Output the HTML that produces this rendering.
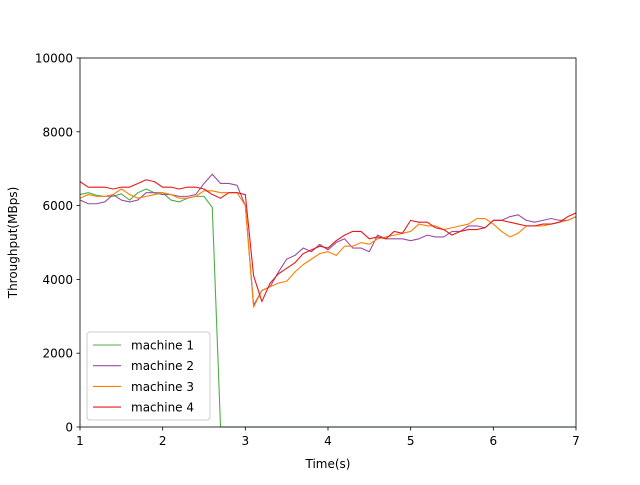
<!DOCTYPE html>
<html><head><meta charset="utf-8"><style>
body{margin:0;background:#fff;}
svg text{font-family:"DejaVu Sans","Liberation Sans",sans-serif;font-size:12px;fill:#000;}
</style></head><body>
<svg id="chart" width="640" height="480" xmlns="http://www.w3.org/2000/svg">
<rect width="640" height="480" fill="#fff"/>
<g id="plot"></g>
</svg>
<script>
const times = [];
for (let i = 0; i <= 60; i++) times.push(+(1 + i * 0.1).toFixed(1));
const seriesNames = ["machine 1","machine 2","machine 3","machine 4"];
const seriesColors = ["#4daf4a","#984ea3","#ff7f00","#e41a1c"];
const machine1 = [6300,6350,6280,6250,6250,6320,6150,6350,6450,6350,6350,6150,6100,6200,6250,6250,5950,0,0,0,0,0,0,0,0,0,0,0,0,0,0,0,0,0,0,0,0,0,0,0,0,0,0,0,0,0,0,0,0,0,0,0,0,0,0,0,0,0,0,0,0,0,0];
const machine2 = [6150,6050,6050,6100,6300,6150,6100,6150,6350,6350,6300,6300,6250,6250,6300,6600,6850,6600,6600,6550,6000,3300,3700,3800,4200,4550,4650,4850,4750,4950,4800,5000,5100,4850,4850,4750,5200,5100,5100,5100,5050,5100,5200,5150,5150,5300,5300,5450,5450,5400,5600,5600,5700,5750,5600,5550,5600,5650,5600,5600,5700];
const machine3 = [6200,6300,6250,6250,6300,6450,6300,6200,6250,6300,6350,6300,6200,6200,6250,6400,6400,6350,6350,6350,6000,3250,3700,3800,3900,3950,4200,4400,4550,4700,4750,4650,4900,4900,5000,4950,5100,5150,5200,5250,5300,5500,5450,5450,5350,5400,5450,5500,5650,5650,5500,5300,5150,5250,5450,5450,5450,5500,5550,5600,5700];
const machine4 = [6650,6500,6500,6500,6450,6500,6500,6600,6700,6650,6500,6500,6450,6500,6500,6450,6300,6200,6350,6350,6300,4100,3400,3900,4150,4300,4450,4700,4800,4900,4850,5050,5200,5300,5300,5100,5150,5100,5300,5250,5600,5550,5550,5400,5350,5200,5300,5350,5350,5400,5600,5600,5550,5500,5450,5450,5500,5500,5550,5700,5800];
const xTicks = [1,2,3,4,5,6,7];
const yTicks = [0,2000,4000,6000,8000,10000];
const L=80,R=576,T=58,B=427;
const xs = t => L + (t-1)/6*(R-L);
const ys = v => B - v/10000*(B-T);
const NS="http://www.w3.org/2000/svg";
const g=document.getElementById('plot');
function mk(tag,attrs,parent){const e=document.createElementNS(NS,tag);for(const k in attrs)e.setAttribute(k,attrs[k]);(parent||g).appendChild(e);return e;}
const allSeries=[machine1,machine2,machine3,machine4];
allSeries.forEach((s,i)=>{
  const pts=s.slice(0,times.length).map((v,j)=>xs(times[j]).toFixed(2)+","+ys(v).toFixed(2)).join(" ");
  const pl=mk('polyline',{points:pts,fill:'none',stroke:seriesColors[i],'stroke-width':1.1,'stroke-linejoin':'round'});
  
  
});
const fr=mk('rect',{x:L,y:T,width:R-L,height:B-T,fill:'none',stroke:'#000','stroke-width':0.8});


xTicks.forEach(t=>{
  mk('line',{x1:xs(t),x2:xs(t),y1:B,y2:B+3.5,stroke:'#000','stroke-width':0.8});
  const tx=mk('text',{x:xs(t),y:B+18,'text-anchor':'middle'});tx.textContent=t;
  
  
});
yTicks.forEach(v=>{
  mk('line',{x1:L-3.5,x2:L,y1:ys(v),y2:ys(v),stroke:'#000','stroke-width':0.8});
  const tx=mk('text',{x:L-7,y:ys(v)+4.5,'text-anchor':'end'});tx.textContent=v;
  
  
});
const xt=mk('text',{x:(L+R)/2,y:468,'text-anchor':'middle'});xt.textContent='Time(s)';


const yt=mk('text',{x:0,y:0,'text-anchor':'middle',transform:`translate(17,${(T+B)/2}) rotate(-90)`});yt.textContent='Throughput(MBps)';


const lg=mk('g',{});


mk('rect',{x:87,y:332,width:123,height:88,rx:3,fill:'#fff','fill-opacity':0.8,stroke:'#ccc','stroke-width':1},lg);
seriesNames.forEach((n,i)=>{
  const y=345+i*20.7;
  const e=mk('g',{},lg);
  
  
  mk('line',{x1:93,x2:121,y1:y,y2:y,stroke:seriesColors[i],'stroke-width':1.1},e);
  const tx=mk('text',{x:131,y:y+4.5},e);tx.textContent=n;
});
</script>
</body></html>
